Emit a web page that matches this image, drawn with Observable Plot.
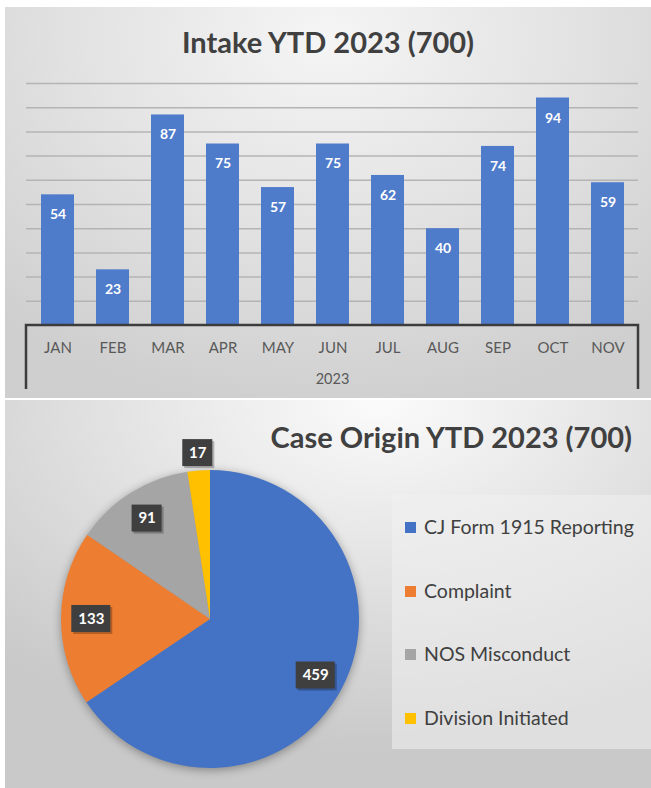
<!DOCTYPE html>
<html><head><meta charset="utf-8">
<script src="https://cdn.jsdelivr.net/npm/d3@7"></script>
<script src="https://cdn.jsdelivr.net/npm/@observablehq/plot@0.6"></script>
<style>
body{margin:0;background:#fff;width:651px;height:788px;position:relative;overflow:hidden;font-family:Lato,"Open Sans",sans-serif;}
.panel{position:absolute;overflow:hidden;}
#top{left:5px;top:7px;width:646px;height:391px;background:radial-gradient(ellipse 75% 95% at 50% 8%,#f5f5f5 0%,#e3e3e3 50%,#cfcfcf 100%);}
#bottom{left:5px;top:400px;width:646px;height:388px;background:radial-gradient(ellipse 85% 90% at 58% 0%,#fbfbfb 0%,#e3e3e3 48%,#c9c9c9 100%);}
.title{position:absolute;font-weight:700;font-size:29px;color:#404040;line-height:36px;white-space:nowrap;}
#t1{left:0;width:646px;text-align:center;top:17px;}
#t2{right:19px;top:19px;}
#bar,#pie{position:absolute;left:0;top:0;}
#legend{position:absolute;left:387px;top:95px;width:261px;height:254px;background:rgba(240,240,240,0.55);}
.item{position:absolute;left:13px;font-size:19.5px;color:#404040;line-height:24px;white-space:nowrap;}
.sw{display:inline-block;width:11px;height:11px;margin-right:8px;vertical-align:1px;}
</style></head><body>
<div id="top" class="panel"><div id="bar"></div><div class="title" id="t1">Intake YTD 2023 (700)</div></div>
<div id="bottom" class="panel"><div id="pie"></div><div class="title" id="t2">Case Origin YTD 2023 (700)</div><div id="legend"></div></div>
<script>
// ---- data ----
const months = ["JAN","FEB","MAR","APR","MAY","JUN","JUL","AUG","SEP","OCT","NOV"];
const intake = [54,23,87,75,57,75,62,40,74,94,59];
const yearLabel = "2023";
const gridValues = [10,20,30,40,50,60,70,80,90,100];
const origins = ["CJ Form 1915 Reporting","Complaint","NOS Misconduct","Division Initiated"];
const originCounts = [459,133,91,17];
const originColors = ["#4472C4","#ED7D31","#A5A5A5","#FFC000"];

// ---- bar chart ----
const bars = months.map((m,i)=>({month:m, value:intake[i]}));
const bracket = (index, scales, values, dims) => {
  const x0 = dims.marginLeft, x1 = dims.width - dims.marginRight, yb = dims.height - dims.marginBottom;
  const g = d3.create("svg:g");
  g.append("path").attr("d",`M${x0},${yb+64}V${yb}H${x1}V${yb+64}`)
    .attr("fill","none").attr("stroke","#3c3c3c").attr("stroke-width",2.5);
  return g.node();
};
const barChart = Plot.plot({
  width:646, height:391,
  marginLeft:21, marginRight:13, marginTop:76, marginBottom:73,
  style:{background:"transparent", fontFamily:"Lato, sans-serif"},
  x:{domain:months, paddingInner:0.4, paddingOuter:0.2, label:null},
  y:{domain:[0,100], axis:null},
  marks:[
    Plot.ruleY(gridValues,{stroke:"#b4b4b4", strokeWidth:1.5}),
    Plot.barY(bars,{x:"month", y:"value", fill:"#4F7BCB"}),
    Plot.text(bars,{x:"month", y:"value", text:d=>String(d.value), dy:20, fill:"white", fontWeight:"bold", fontSize:14}),
    Plot.axisX({tickSize:0, tickPadding:17, fontSize:15, color:"#595959", label:null}),
    Plot.text([yearLabel],{frameAnchor:"bottom", lineAnchor:"middle", dy:54, fontSize:14.5, fill:"#595959"}),
    bracket
  ]
});
document.getElementById("bar").append(barChart);

// ---- pie chart ----
const colorScale = Plot.scale({color:{domain:origins, range:originColors}});
const total = d3.sum(originCounts);
const arcs = d3.pie().sort(null).value(d=>d)(originCounts);
const labels = arcs.map((a,i)=>{
  const mid = (a.startAngle+a.endAngle)/2;
  const rr = a.value/total < 0.05 ? 1.12 : 0.8;
  return {x:Math.sin(mid)*rr, y:Math.cos(mid)*rr, text:String(a.value), digits:String(a.value).length};
});
const pieMark = (index, scales) => {
  const cx = scales.x(0), cy = scales.y(0), r = scales.x(1) - cx;
  const g = d3.create("svg:g").attr("transform",`translate(${cx},${cy})`)
    .style("filter","drop-shadow(0px 2px 5px rgba(0,0,0,0.35))");
  g.selectAll("path").data(arcs).join("path")
    .attr("d", d3.arc().innerRadius(0).outerRadius(r))
    .attr("fill",(d,i)=>colorScale.apply(origins[i]));
  return g.node();
};
const boxes = (digits, half) => [
  Plot.rect(labels.filter(d=>d.digits===digits),{x1:"x",x2:"x",y1:"y",y2:"y",dx:2,dy:2,
    insetLeft:-half,insetRight:-half,insetTop:-13.5,insetBottom:-13.5,fill:"#000",fillOpacity:0.25}),
  Plot.rect(labels.filter(d=>d.digits===digits),{x1:"x",x2:"x",y1:"y",y2:"y",
    insetLeft:-half,insetRight:-half,insetTop:-13.5,insetBottom:-13.5,fill:"#3f3f3f"})
];
const pieChart = Plot.plot({
  width:380, height:388,
  marginLeft:56, marginRight:26, marginTop:70, marginBottom:20,
  style:{background:"transparent", fontFamily:"Lato, sans-serif"},
  x:{domain:[-1,1], axis:null},
  y:{domain:[-1,1], axis:null},
  marks:[
    pieMark,
    ...boxes(2,15),
    ...boxes(3,19.5),
    Plot.text(labels,{x:"x", y:"y", text:"text", fill:"white", fontWeight:"bold", fontSize:15})
  ]
});
document.getElementById("pie").append(pieChart);

// ---- legend ----
const legend = d3.select("#legend");
origins.forEach((name,i)=>{
  const it = legend.append("div").attr("class","item").style("top",(20+i*63.5)+"px");
  it.append("span").attr("class","sw").style("background",colorScale.apply(name));
  it.append("span").text(name);
});
</script>
</body></html>
